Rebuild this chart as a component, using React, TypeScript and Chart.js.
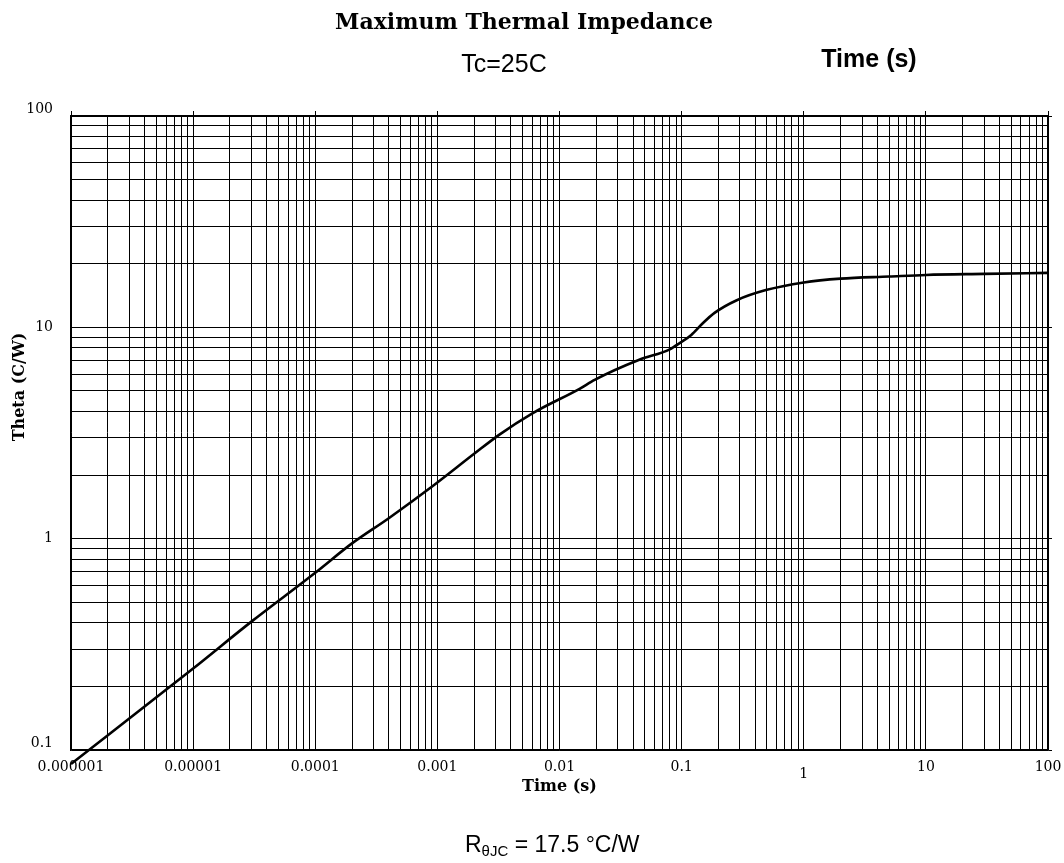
import React, { useEffect, useRef } from 'react';
import { Chart, registerables } from 'chart.js';

Chart.register(...registerables);

// ---- data ----
const TIME_S = [1e-6, 1e-5, 3e-5, 1e-4, 2e-4, 4e-4, 9e-4, 2e-3, 3.2e-3, 6e-3, 0.0146, 0.0194, 0.045, 0.08, 0.0965, 0.12, 0.149, 0.186, 0.28, 0.49, 1, 2, 5, 10, 30, 100];
const THETA = [0.0858, 0.243, 0.405, 0.69, 0.95, 1.25, 1.76, 2.52, 3.1, 3.92, 5.12, 5.64, 7.02, 7.87, 8.42, 9.2, 10.45, 11.7, 13.4, 15.0, 16.3, 17.0, 17.4, 17.7, 17.9, 18.1];

const X_DECADES = [1e-6, 1e-5, 1e-4, 1e-3, 0.01, 0.1, 1, 10, 100];
const X_LABELS = ['0.000001', '0.00001', '0.0001', '0.001', '0.01', '0.1', '1', '10', '100'];
const Y_DECADES = [0.1, 1, 10, 100];
const Y_LABELS = ['0.1', '1', '10', '100'];
const STEPS = [1, 2, 3, 4, 5, 6, 7, 8, 9];

const TITLE = 'Maximum Thermal Impedance';
const SUBTITLE_LEFT = 'Tc=25C';
const SUBTITLE_RIGHT = 'Time (s)';
const X_TITLE = 'Time (s)';
const Y_TITLE = 'Theta (C/W)';
const NOTE_MAIN = 'R';
const NOTE_SUB = 'θJC';
const NOTE_REST = ' = 17.5 °C/W';

function gridValues(decades: number[]) {
  const out: number[] = [];
  for (let i = 0; i < decades.length - 1; i++) {
    for (const s of STEPS) out.push(parseFloat((decades[i] * s).toPrecision(6)));
  }
  out.push(decades[decades.length - 1]);
  return out;
}

function idxOf(v: number, decades: number[]) {
  for (let i = 0; i < decades.length; i++) {
    if (Math.abs(Math.log10(v) - Math.log10(decades[i])) < 1e-6) return i;
  }
  return -1;
}

const SERIF = '"DejaVu Serif", serif';
const SANS = '"Liberation Sans", Arial, sans-serif';

const annotPlugin = {
  id: 'annotations',
  afterDraw(chart: any) {
    const ctx = chart.ctx as CanvasRenderingContext2D;
    ctx.save();
    ctx.fillStyle = '#000';
    ctx.textBaseline = 'alphabetic';
    ctx.textAlign = 'center';

    ctx.font = `bold 22px ${SERIF}`;
    ctx.fillText(TITLE, 524, 29);

    ctx.font = `25px ${SANS}`;
    ctx.fillText(SUBTITLE_LEFT, 504, 72);
    ctx.font = `bold 25px ${SANS}`;
    ctx.fillText(SUBTITLE_RIGHT, 869, 67);

    ctx.save();
    ctx.translate(20, 387);
    ctx.rotate(-Math.PI / 2);
    ctx.font = `bold 16px ${SERIF}`;
    ctx.textBaseline = 'middle';
    ctx.fillText(Y_TITLE, 0, 0);
    ctx.restore();

    ctx.textAlign = 'left';
    let x = 465;
    const base = 852;
    ctx.font = `23px ${SANS}`;
    ctx.fillText(NOTE_MAIN, x, base);
    x += ctx.measureText(NOTE_MAIN).width;
    ctx.font = `15px ${SANS}`;
    ctx.fillText(NOTE_SUB, x, base + 4);
    x += ctx.measureText(NOTE_SUB).width;
    ctx.font = `23px ${SANS}`;
    ctx.fillText(NOTE_REST, x, base);
    ctx.restore();
  },
};

function noPad(s: any) {
  s.paddingLeft = 0;
  s.paddingRight = 0;
  s.paddingTop = 0;
  s.paddingBottom = 0;
}

export default function App() {
  const ref = useRef<HTMLCanvasElement>(null);

  useEffect(() => {
    if (!ref.current) return;
    const xGrid = gridValues(X_DECADES);
    const yGrid = gridValues(Y_DECADES);
    const points = TIME_S.map((t, i) => ({ x: t, y: THETA[i] }));

    const chart = new Chart(ref.current, {
      type: 'line',
      data: {
        datasets: [
          {
            data: points,
            borderColor: '#000',
            borderWidth: 2.6,
            pointRadius: 0,
            cubicInterpolationMode: 'monotone',
            fill: false,
            clip: false as any,
          },
        ],
      },
      options: {
        animation: false,
        responsive: false,
        devicePixelRatio: 1,
        layout: { padding: { top: 106, left: 0, right: 0, bottom: 0 }, autoPadding: false },
        plugins: {
          legend: { display: false },
          tooltip: { enabled: false },
          title: { display: false },
        },
        scales: {
          x: {
            type: 'logarithmic',
            position: 'bottom',
            min: 1e-6,
            max: 100,
            afterBuildTicks: (s: any) => {
              s.ticks = xGrid.map((v) => ({ value: v }));
            },
            afterFit: (s: any) => {
              s.height = 113;
              noPad(s);
            },
            grid: { color: '#000', lineWidth: 1, drawTicks: false },
            border: { display: true, color: '#000', width: 1.5 },
            ticks: {
              autoSkip: false,
              maxRotation: 0,
              padding: 9,
              color: '#000',
              font: (c: any) => ({
                family: SERIF,
                size: 14,
                lineHeight: c.tick && Math.abs(c.tick.value - 1) < 1e-9 ? 2.2 : 1.2,
              }),
              callback: (v: any) => {
                const i = idxOf(Number(v), X_DECADES);
                return i < 0 ? '' : X_LABELS[i];
              },
            },
            title: {
              display: true,
              text: X_TITLE,
              color: '#000',
              font: { family: SERIF, size: 16, weight: 'bold' },
              padding: { top: 0, bottom: 67 },
            },
          },
          x2: {
            type: 'logarithmic',
            position: 'top',
            min: 1e-6,
            max: 100,
            afterBuildTicks: (s: any) => {
              s.ticks = X_DECADES.map((v) => ({ value: v }));
            },
            afterFit: (s: any) => {
              s.height = 10;
              noPad(s);
            },
            grid: { color: '#000', lineWidth: 1, drawOnChartArea: false, drawTicks: true, tickLength: 5 },
            border: { display: true, color: '#000', width: 1.5 },
            ticks: { display: false, autoSkip: false },
          },
          y: {
            type: 'logarithmic',
            position: 'left',
            min: 0.1,
            max: 100,
            afterBuildTicks: (s: any) => {
              s.ticks = yGrid.map((v) => ({ value: v }));
            },
            afterFit: (s: any) => {
              s.width = 71;
              noPad(s);
            },
            grid: { color: '#000', lineWidth: 1, drawTicks: false },
            border: { display: true, color: '#000', width: 1.5 },
            ticks: {
              autoSkip: false,
              padding: 18,
              color: '#000',
              font: { family: SERIF, size: 14, lineHeight: 1.0 },
              callback: (v: any) => {
                const i = idxOf(Number(v), Y_DECADES);
                if (i < 0) return '';
                return i === 0 || i === Y_DECADES.length - 1 ? [Y_LABELS[i], ''] : Y_LABELS[i];
              },
            },
          },
          y2: {
            type: 'logarithmic',
            position: 'right',
            min: 0.1,
            max: 100,
            afterBuildTicks: (s: any) => {
              s.ticks = Y_DECADES.map((v) => ({ value: v }));
            },
            afterFit: (s: any) => {
              s.width = 16;
              noPad(s);
            },
            grid: { color: '#000', lineWidth: 1, drawOnChartArea: false, drawTicks: true, tickLength: 4 },
            border: { display: true, color: '#000', width: 1.5 },
            ticks: { display: false, autoSkip: false },
          },
        },
      } as any,
      plugins: [annotPlugin],
    });
    return () => chart.destroy();
  }, []);

  return (
    <div style={{ position: 'absolute', left: 0, top: 0, width: 1064, height: 863, background: '#fff' }}>
      <canvas ref={ref} width={1064} height={863} style={{ display: 'block' }} />
    </div>
  );
}
